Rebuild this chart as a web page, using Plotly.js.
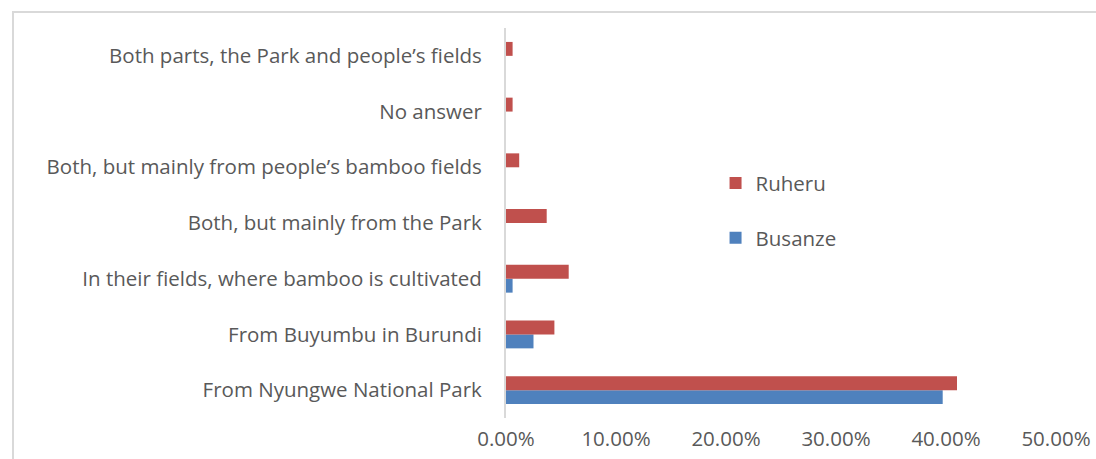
<!DOCTYPE html>
<html>
<head>
<meta charset="utf-8">
<script src="https://cdn.plot.ly/plotly-3.0.1.min.js"></script>
<style>
html,body{margin:0;padding:0;background:#fff;overflow:hidden;}
#frame{position:absolute;left:12px;top:11px;width:1300px;height:700px;border:2px solid #d9d9d9;box-sizing:border-box;}
#chart{position:absolute;left:0;top:0;width:1096px;height:459px;}
</style>
</head>
<body>
<div id="frame"></div>
<div id="chart"></div>
<script>
const categories = [
  "From Nyungwe National Park",
  "From Buyumbu in Burundi",
  "In their fields, where bamboo is cultivated",
  "Both, but mainly from the Park",
  "Both, but mainly from people’s bamboo fields",
  "No answer",
  "Both parts, the Park and people’s fields"
];
const busanze = [0.397, 0.025, 0.006, 0, 0, 0, 0];
const ruheru  = [0.410, 0.044, 0.057, 0.037, 0.012, 0.006, 0.006];
const xTickVals = [0, 0.1, 0.2, 0.3, 0.4, 0.5];
const xTickText = ["0.00%", "10.00%", "20.00%", "30.00%", "40.00%", "50.00%"];

const font = {family: "'Open Sans', Lato, sans-serif", size: 20.5, color: "#595959"};

const traces = [
  {type: "bar", orientation: "h", name: "Busanze", y: categories, x: busanze,
   marker: {color: "#4f81bd"}, legend: "legend2", hoverinfo: "none"},
  {type: "bar", orientation: "h", name: "Ruheru", y: categories, x: ruheru,
   marker: {color: "#c0504d"}, legend: "legend", hoverinfo: "none"}
];

const layout = {
  width: 1096, height: 459,
  paper_bgcolor: "rgba(0,0,0,0)", plot_bgcolor: "rgba(0,0,0,0)",
  margin: {l: 506, r: 40, t: 28, b: 41},
  font: font,
  barmode: "group", bargap: 0.5, bargroupgap: 0,
  showlegend: true,
  xaxis: {range: [0, 0.5], tickvals: xTickVals, ticktext: xTickText,
          showgrid: false, zeroline: false, showline: false, ticks: "",
          ticklabelstandoff: 6, tickfont: font, fixedrange: true},
  yaxis: {type: "category", showgrid: false, zeroline: false, showline: true,
          linecolor: "#d9d9d9", linewidth: 2, ticks: "", ticklabelstandoff: 18,
          tickfont: font, fixedrange: true},
  legend: {x: 0.381, y: 0.602, xanchor: "left", yanchor: "middle",
           bgcolor: "rgba(0,0,0,0)", font: font},
  legend2: {x: 0.381, y: 0.462, xanchor: "left", yanchor: "middle",
           bgcolor: "rgba(0,0,0,0)", font: font}
};

Plotly.newPlot("chart", traces, layout, {staticPlot: true});
</script>
</body>
</html>
